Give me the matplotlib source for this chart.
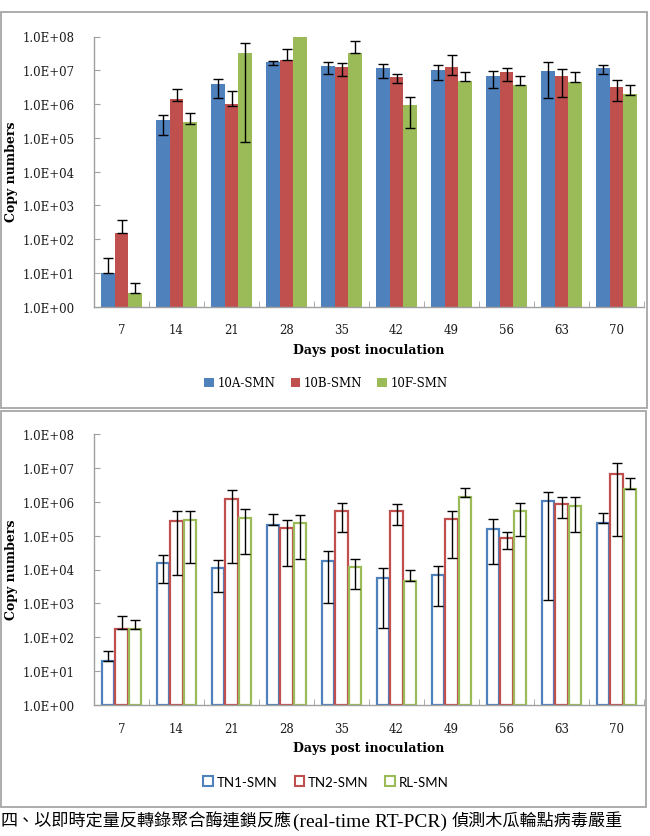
import numpy as np
import matplotlib
matplotlib.use("Agg")
import matplotlib.pyplot as plt
from matplotlib.patches import Patch, Rectangle
from matplotlib.ticker import FixedLocator, FuncFormatter, NullLocator

days = [7, 14, 21, 28, 35, 42, 49, 56, 63, 70]

# top panel: 10A / 10B / 10F (value, lower end, upper end of error bar)
a10_val = [10, 3.3e5, 3.9e6, 1.7e7, 1.3e7, 1.13e7, 1.05e7, 6.7e6, 9.6e6, 1.13e7]
a10_lo = [10, 1.25e5, 1.56e6, 1.4e7, 7.6e6, 6.1e6, 5.3e6, 2.9e6, 1.46e6, 7.5e6]
a10_hi = [27, 4.9e5, 5.7e6, 1.9e7, 1.8e7, 1.5e7, 1.4e7, 9.6e6, 1.7e7, 1.4e7]

b10_val = [155, 1.4e6, 9.7e5, 2.0e7, 1.26e7, 6.4e6, 1.26e7, 8.6e6, 6.7e6, 3.2e6]
b10_lo = [155, 1.25e6, 9.0e5, 2.0e7, 6.9e6, 4.1e6, 7.1e6, 4.9e6, 1.63e6, 1.2e6]
b10_hi = [380, 2.7e6, 2.4e6, 4.2e7, 1.66e7, 7.6e6, 2.8e7, 1.2e7, 1.07e7, 5.1e6]

f10_val = [2.5, 2.97e5, 3.3e7, 1.1e8, 3.3e7, 9.2e5, 4.75e6, 3.6e6, 4.4e6, 1.95e6]
f10_lo = [2.5, 2.6e5, 7.6e4, 1.1e8, 3.3e7, 1.96e5, 4.75e6, 3.6e6, 4.4e6, 1.8e6]
f10_hi = [5.0, 5.6e5, 6.6e7, 1.1e8, 7.5e7, 1.6e6, 9.1e6, 6.9e6, 8.6e6, 3.6e6]

# bottom panel: TN1 / TN2 / RL
tn1_val = [19.5, 1.55e4, 1.1e4, 2.1e5, 1.8e4, 5.8e3, 6.9e3, 1.6e5, 1.07e6, 2.3e5]
tn1_lo = [19.5, 4.0e3, 2.1e3, 2.1e5, 1.0e3, 182, 850, 1.44e4, 1.28e3, 2.3e5]
tn1_hi = [40, 2.6e4, 1.9e4, 4.3e5, 3.4e4, 1.1e4, 1.29e4, 3.2e5, 2.0e6, 4.6e5]

tn2_val = [175, 2.7e5, 1.2e6, 1.66e5, 5.2e5, 5.4e5, 3.1e5, 8.5e4, 8.5e5, 6.8e6]
tn2_lo = [175, 6.9e3, 1.55e4, 1.23e4, 1.24e5, 2.0e5, 2.2e4, 4.0e4, 3.4e5, 9.8e4]
tn2_hi = [414, 5.2e5, 2.2e6, 2.9e5, 8.9e5, 8.5e5, 5.4e5, 1.3e5, 1.34e6, 1.35e7]

rl_val = [175, 2.8e5, 3.4e5, 2.3e5, 1.15e4, 4.6e3, 1.34e6, 5.4e5, 7.6e5, 2.45e6]
rl_lo = [175, 1.55e4, 2.8e4, 2.0e4, 2.6e3, 4.6e3, 1.34e6, 9.5e4, 1.24e5, 2.45e6]
rl_hi = [330, 5.4e5, 6.3e5, 4.1e5, 2.0e4, 9.8e3, 2.5e6, 9.5e5, 1.34e6, 4.9e6]

top_names = ["10A-SMN", "10B-SMN", "10F-SMN"]
bot_names = ["TN1-SMN", "TN2-SMN", "RL-SMN"]
colors = ["#4F81BD", "#C0504D", "#9BBB59"]

W, H = 650, 837
fig = plt.figure(figsize=(6.5, 8.37), dpi=100)
fig.patch.set_facecolor("white")


def fx(px):
    return px / W


def fy(py):
    return 1 - py / H


# panel frames
fig.patches.append(Rectangle((fx(1), fy(409)), fx(647) - fx(1), fy(13) - fy(409),
                             transform=fig.transFigure, fill=False, ec="#A6A6A6", lw=1.3))
fig.patches.append(Rectangle((fx(1), fy(808)), fx(646) - fx(1), fy(412) - fy(808),
                             transform=fig.transFigure, fill=False, ec="#A6A6A6", lw=1.3))

ax1 = fig.add_axes([fx(94), fy(307.7), fx(644) - fx(94), fy(37.5) - fy(307.7)])
ax2 = fig.add_axes([fx(94), fy(706), fx(644) - fx(94), fy(435) - fy(706)])

x = np.arange(len(days))
bw = 0.245
offs = [-bw, 0, bw]

top_sets = [(a10_val, a10_lo, a10_hi), (b10_val, b10_lo, b10_hi), (f10_val, f10_lo, f10_hi)]
bot_sets = [(tn1_val, tn1_lo, tn1_hi), (tn2_val, tn2_lo, tn2_hi), (rl_val, rl_lo, rl_hi)]

for ax, sets, filled in [(ax1, top_sets, True), (ax2, bot_sets, False)]:
    ax.set_yscale("log")
    for i, (v, lo, hi) in enumerate(sets):
        v = np.array(v, float)
        lo = np.array(lo, float)
        hi = np.array(hi, float)
        if filled:
            ax.bar(x + offs[i], v - 1, bottom=1, width=bw, color=colors[i], lw=0, zorder=2)
        else:
            ax.bar(x + offs[i], v - 1, bottom=1, width=bw * 0.9, facecolor="white",
                   edgecolor=colors[i], lw=1.6, zorder=2)
        ax.errorbar(x + offs[i], v, yerr=[v - lo, hi - v], fmt="none", ecolor="black",
                    elinewidth=1.0, capsize=3.4, capthick=1.0, zorder=3)
    ax.set_ylim(1, 1e8)
    ax.set_xlim(-0.5, len(days) - 0.5)
    ax.yaxis.set_major_locator(FixedLocator([10.0 ** k for k in range(9)]))
    ax.yaxis.set_minor_locator(NullLocator())
    ax.yaxis.set_major_formatter(FuncFormatter(lambda val, pos: "%.1E" % val))
    ax.set_xticks(x)
    ax.set_xticklabels([str(d) for d in days])
    ax.set_xticks(np.arange(-0.5, len(days)), minor=True)
    ax.tick_params(axis="x", which="major", length=0, pad=12)
    ax.tick_params(axis="x", which="minor", direction="in", length=4, color="#A0A0A0")
    ax.tick_params(axis="y", direction="in", length=4, color="#A0A0A0", pad=14)
    for lab in ax.get_xticklabels() + ax.get_yticklabels():
        lab.set_fontfamily("DejaVu Serif")
        lab.set_fontsize(8.5)
        lab.set_color("#1a1a1a")
    for s in ["top", "right"]:
        ax.spines[s].set_visible(False)
    for s in ["left", "bottom"]:
        ax.spines[s].set_color("#A0A0A0")
        ax.spines[s].set_linewidth(1.0)
    ax.text(0.5, -0.157, "Days post inoculation", transform=ax.transAxes, ha="center",
            va="center", fontsize=9, fontweight="bold", family="DejaVu Serif")

fig.text(fx(12), fy(172), "Copy numbers", rotation=90, ha="center", va="center",
         fontsize=9, fontweight="bold", family="DejaVu Serif")
fig.text(fx(12), fy(570), "Copy numbers", rotation=90, ha="center", va="center",
         fontsize=9, fontweight="bold", family="DejaVu Serif")

h_top = [Patch(facecolor=c, edgecolor="none") for c in colors]
leg1 = fig.legend(h_top, top_names, loc="center", bbox_to_anchor=(fx(326), fy(384)),
                  ncol=3, frameon=False, handlelength=0.8, handleheight=0.8,
                  handletextpad=0.3, columnspacing=1.3,
                  prop={"family": "DejaVu Serif", "size": 8.5})
h_bot = [Patch(facecolor="white", edgecolor=c, lw=1.5) for c in colors]
leg2 = fig.legend(h_bot, bot_names, loc="center", bbox_to_anchor=(fx(326), fy(783)),
                  ncol=3, frameon=False, handlelength=0.7, handleheight=0.8,
                  handletextpad=0.3, columnspacing=1.3,
                  prop={"family": "Lato", "size": 9.5})

# caption below the figure (its visible part)
cjk = ["Noto Sans CJK TC", "DejaVu Sans"]
fig.text(fx(292), fy(822), "四、以即時定量反轉錄聚合酶連鎖反應", ha="right", va="center",
         fontsize=12.3, family=cjk)
fig.text(fx(293), fy(822), "(real-time RT-PCR)", ha="left", va="center",
         fontsize=14, family="Liberation Serif")
fig.text(fx(452), fy(822), "偵測木瓜輪點病毒嚴重", ha="left", va="center",
         fontsize=12.3, family=cjk)

fig.savefig("out.png", dpi=100, facecolor="white")
